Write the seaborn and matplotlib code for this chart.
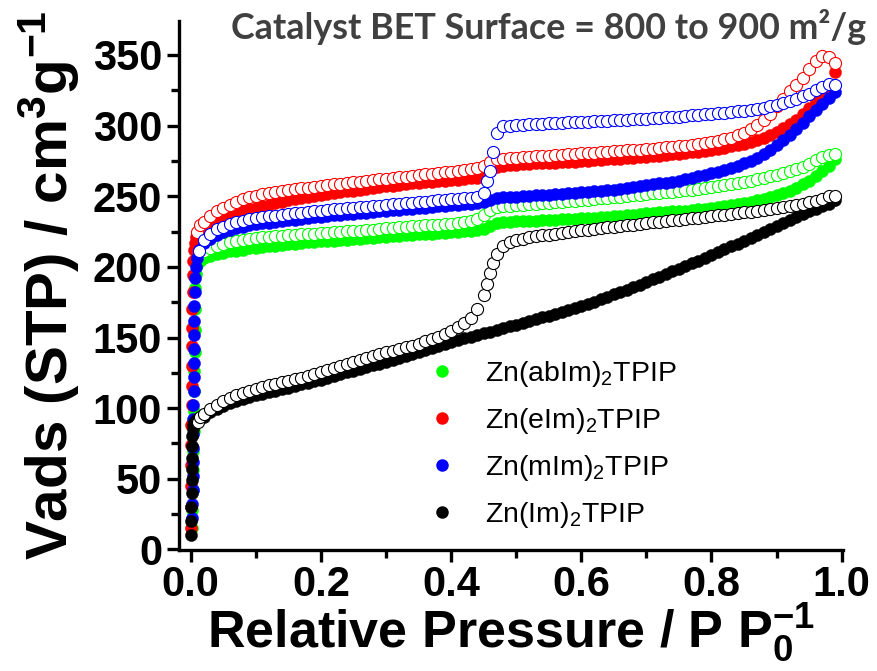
import numpy as np
import pandas as pd
import matplotlib
matplotlib.use("Agg")
import matplotlib.pyplot as plt
from matplotlib.ticker import MultipleLocator
from matplotlib.lines import Line2D
import seaborn as sns

# ---------------- data ----------------
GRID_P = [0.02, 0.03, 0.04, 0.05, 0.06, 0.07, 0.08, 0.09, 0.10, 0.11,
          0.12, 0.13, 0.14, 0.15, 0.16, 0.17, 0.18, 0.19, 0.20, 0.21,
          0.22, 0.23, 0.24, 0.25, 0.26, 0.27, 0.28, 0.29, 0.30, 0.31,
          0.32, 0.33, 0.34, 0.35, 0.36, 0.37, 0.38, 0.39, 0.40, 0.41,
          0.42, 0.43, 0.44, 0.45, 0.46, 0.47, 0.48, 0.49, 0.50, 0.51,
          0.52, 0.53, 0.54, 0.55, 0.56, 0.57, 0.58, 0.59, 0.60, 0.61,
          0.62, 0.63, 0.64, 0.65, 0.66, 0.67, 0.68, 0.69, 0.70, 0.71,
          0.72, 0.73, 0.74, 0.75, 0.76, 0.77, 0.78, 0.79, 0.80, 0.81,
          0.82, 0.83, 0.84, 0.85, 0.86, 0.87, 0.88, 0.89, 0.90, 0.91,
          0.92, 0.93, 0.94, 0.95, 0.96, 0.97, 0.98, 0.99]

# Zn(abIm)2TPIP (green)
ABIM_ADS_LOW_P = [0.002, 0.0025, 0.003, 0.0035, 0.004, 0.0045, 0.005, 0.0053, 0.0056, 0.0059,
                  0.0062, 0.0065, 0.007, 0.008, 0.01, 0.014]
ABIM_ADS_LOW_V = [15, 28, 42, 56, 70, 84, 98, 112, 126, 140, 155, 170, 185, 195, 201, 204]
ABIM_ADS = [206, 207.5, 209, 210, 211, 211.5, 212, 213, 213.5, 214,
            214.5, 215, 215.5, 216, 216.5, 217, 217.3, 217.6, 218, 218.3,
            218.6, 219, 219.3, 219.6, 220, 220.3, 220.6, 221, 221.3, 221.6,
            222, 222.3, 222.6, 223, 223.3, 223.6, 224, 224.3, 224.6, 225,
            225.3, 225.6, 226, 227, 229, 231, 231.5, 232, 232.2, 232.4,
            232.6, 232.8, 233, 233.2, 233.4, 233.6, 233.8, 234, 234.3, 234.6,
            234.9, 235.2, 235.5, 235.8, 236.1, 236.5, 237, 237.5, 238, 238.3,
            238.6, 238.9, 239.2, 239.5, 239.8, 240.2, 240.6, 241, 241.6, 242.2,
            242.9, 243.6, 244.3, 245, 246, 247, 248.2, 249.4, 250.8, 252.3,
            254, 256, 258.5, 261, 264, 267.5, 271.5, 276]
ABIM_DES_LOW_P = [0.01, 0.015]
ABIM_DES_LOW_V = [206, 209]
ABIM_DES = [211, 213.5, 215, 216.5, 217.5, 218.5, 219.3, 220, 220.5, 221,
            221.4, 221.8, 222.1, 222.4, 222.7, 223, 223.3, 223.6, 223.9, 224.2,
            224.5, 224.8, 225.1, 225.4, 225.7, 226, 226.4, 226.8, 227.2, 227.6,
            228, 228.4, 228.7, 229, 229.3, 229.6, 229.9, 230.2, 230.5, 231,
            231.5, 232.5, 234, 236.5, 240, 242.5, 243, 243.4, 243.8, 244.1,
            244.4, 244.7, 245, 245.3, 245.6, 246, 246.4, 246.8, 247.2, 247.6,
            248, 248.4, 248.8, 249.2, 249.7, 250.2, 250.7, 251.2, 251.7, 252.1,
            252.5, 252.9, 253.3, 253.7, 254.2, 254.7, 255.2, 255.7, 256.3, 257,
            257.8, 258.6, 259.4, 260.2, 261.1, 262, 263, 264, 265, 266.2,
            267.6, 269.2, 271, 273, 275.3, 277.5, 279.2, 279.8]

# Zn(eIm)2TPIP (red)
EIM_ADS_LOW_P = [0.0002, 0.0004, 0.0006, 0.0008, 0.001, 0.0012, 0.0014, 0.0016, 0.0018, 0.002,
                 0.0023, 0.0026, 0.003, 0.0035, 0.004, 0.005, 0.006, 0.008, 0.01, 0.014]
EIM_ADS_LOW_V = [15, 30, 45, 60, 74, 88, 102, 116, 130, 144,
                 157, 170, 182, 194, 204, 212, 217, 221, 224, 226]
EIM_ADS = [228, 231, 233.5, 235.5, 237, 238.5, 240, 241, 242, 243,
           244, 245, 246, 247, 248, 248.8, 249.6, 250.4, 251, 251.6,
           252.2, 252.8, 253.4, 254, 254.6, 255.2, 255.8, 256.4, 257, 257.5,
           258, 258.5, 259, 259.4, 259.8, 260.2, 260.6, 261, 261.4, 261.8,
           262.2, 262.6, 263, 264, 268, 271, 271.6, 272, 272.4, 272.7,
           273, 273.2, 273.4, 273.6, 273.8, 274, 274.2, 274.5, 274.8, 275.1,
           275.4, 275.7, 276, 276.3, 276.6, 276.9, 277.2, 277.6, 278, 278.4,
           278.8, 279.2, 279.6, 280, 280.5, 281, 281.6, 282.2, 282.9, 283.6,
           284.4, 285.2, 286, 287, 288.2, 289.5, 291.2, 293.2, 295.5, 298,
           301, 304, 308, 312.5, 317.5, 322, 328, 338]
EIM_DES_LOW_P = [0.009, 0.015]
EIM_DES_LOW_V = [224.5, 229.5]
EIM_DES = [232, 236, 239.5, 242, 244, 246, 247.8, 249.3, 250.5, 251.5,
           252.3, 253, 253.7, 254.3, 254.9, 255.5, 256.1, 256.7, 257.3, 257.9,
           258.4, 258.9, 259.4, 259.9, 260.4, 260.9, 261.4, 261.9, 262.4, 262.9,
           263.4, 263.9, 264.4, 264.9, 265.4, 265.9, 266.4, 266.9, 267.4, 268,
           268.6, 269.3, 270.2, 271.5, 274, 276, 276.6, 277, 277.3, 277.6,
           277.9, 278.2, 278.5, 278.8, 279.1, 279.4, 279.7, 280, 280.3, 280.6,
           280.9, 281.2, 281.5, 281.8, 282.1, 282.4, 282.7, 283, 283.3, 283.7,
           284.1, 284.5, 284.9, 285.3, 285.8, 286.3, 286.9, 287.6, 288.4, 289.3,
           290.3, 291.5, 293, 295, 297.5, 300.5, 304, 308.5, 313.5, 319,
           324.5, 329, 334, 340, 345.5, 349, 348.5, 344]

# Zn(mIm)2TPIP (blue)
MIM_ADS_LOW_P = [0.0025, 0.0027, 0.0029, 0.0031, 0.0033, 0.0035, 0.0037, 0.0039, 0.0041, 0.0043,
                 0.0045, 0.0047, 0.0049, 0.0051, 0.0053, 0.0056, 0.006, 0.0066, 0.0075, 0.0095, 0.013]
MIM_ADS_LOW_V = [22, 32, 42, 52, 62, 72, 82, 92, 102, 112,
                 122, 132, 142, 152, 162, 172, 182, 192, 200, 206, 212]
MIM_ADS = [217, 220, 222.5, 224.5, 226, 227.3, 228.4, 229.3, 230, 230.7,
           231.3, 231.9, 232.5, 233, 233.5, 234, 234.5, 235, 235.5, 236,
           236.4, 236.8, 237.2, 237.6, 238, 238.4, 238.8, 239.2, 239.6, 240,
           240.4, 240.8, 241.2, 241.6, 242, 242.4, 242.8, 243.2, 243.6, 244,
           244.4, 244.8, 245.2, 246, 247.5, 248.7, 249.1, 249.4, 249.7, 250,
           250.3, 250.6, 250.9, 251.2, 251.5, 251.8, 252.1, 252.4, 252.7, 253,
           253.4, 253.8, 254.2, 254.7, 255.2, 255.8, 256.4, 257.2, 257.8, 258.4,
           259, 259.6, 260.3, 261.1, 262, 263, 264, 265, 266.2, 267.4,
           268.7, 270.1, 271.6, 273.3, 275.2, 277.3, 279.8, 282.8, 286, 289.5,
           293.5, 297.5, 302, 306.5, 311, 315.5, 319.5, 324]
MIM_DES_LOW_P = [0.012, 0.455, 0.465]
MIM_DES_LOW_V = [211.5, 261, 281]
MIM_DES = [219, 223, 226.5, 228.5, 230, 231.5, 232.8, 233.8, 234.6, 235.2,
           235.8, 236.3, 236.8, 237.3, 237.8, 238.3, 238.8, 239.3, 239.8, 240.2,
           240.6, 241, 241.4, 241.8, 242.2, 242.6, 243, 243.4, 243.8, 244.2,
           244.6, 245, 245.4, 245.8, 246.2, 246.6, 247, 247.4, 247.8, 248.2,
           248.6, 249, 249.5, 252, 268, 295, 299.5, 300, 300.4, 300.7,
           301, 301.2, 301.4, 301.6, 301.8, 302, 302.2, 302.4, 302.6, 302.8,
           303, 303.2, 303.4, 303.6, 303.8, 304, 304.3, 304.6, 304.9, 305.2,
           305.5, 305.8, 306.1, 306.4, 306.8, 307.2, 307.6, 308, 308.4, 308.8,
           309.2, 309.6, 310.1, 310.6, 311.2, 311.9, 312.7, 313.6, 314.6, 315.8,
           317.2, 318.8, 320.6, 322.6, 325, 327.5, 329.5, 328.5]

# Zn(Im)2TPIP (black)
IM_ADS_LOW_P = [0.0008, 0.001, 0.0012, 0.0014, 0.0016, 0.0018, 0.002, 0.0023, 0.0027, 0.0032,
                0.004, 0.0055, 0.0075, 0.01, 0.014]
IM_ADS_LOW_V = [10, 20, 30, 40, 49, 57, 65, 73, 80, 85, 88, 90, 91.5, 92.5, 93.5]
IM_ADS = [94, 97, 99.5, 101.5, 103.3, 105, 106.5, 107.8, 109, 110.2,
          111.3, 112.4, 113.5, 114.6, 115.7, 116.8, 117.9, 119, 120.1, 121.4,
          122.7, 124, 125.3, 126.6, 127.9, 129.1, 130.3, 131.6, 133, 134.4,
          135.8, 137.2, 138.6, 140, 141.4, 142.8, 144.2, 145.6, 147, 148.2,
          149.4, 150.6, 151.8, 153, 154.2, 155.4, 156.6, 157.8, 159, 160.3,
          161.6, 162.9, 164.2, 165.5, 166.8, 168.1, 169.4, 170.7, 172, 173.7,
          175.4, 177.1, 178.8, 180.5, 182.2, 183.9, 185.7, 187.5, 189.5, 191.3,
          193.1, 195, 196.9, 198.8, 200.7, 202.6, 204.5, 206.5, 208.5, 210.5,
          212.5, 214.5, 216.5, 218.5, 220.6, 222.7, 224.8, 226.9, 229, 231.1,
          233.2, 235.3, 237.4, 239.4, 241.2, 243, 244.8, 247]
IM_DES_LOW_P = [0.011, 0.015, 0.455, 0.465]
IM_DES_LOW_V = [90.5, 93.5, 188, 203]
IM_DES = [96, 99.5, 102.5, 105, 107, 109, 110.8, 112.4, 113.8, 115,
          116.1, 117.2, 118.3, 119.4, 120.5, 121.6, 122.7, 124.1, 125.5, 126.9,
          128.3, 129.7, 131.1, 132.5, 133.9, 135.3, 136.7, 138.1, 139.4, 140.6,
          141.8, 143, 144.3, 145.7, 147.2, 148.8, 150.6, 152.6, 154.8, 157.3,
          160.3, 164, 170, 180, 196, 209, 215, 217.5, 219, 220,
          220.8, 221.5, 222.2, 222.9, 223.5, 224.1, 224.7, 225.3, 225.9, 226.4,
          226.9, 227.4, 227.9, 228.4, 228.9, 229.4, 229.9, 230.4, 230.9, 231.4,
          231.9, 232.4, 232.9, 233.4, 233.9, 234.4, 234.9, 235.4, 235.9, 236.4,
          236.9, 237.4, 237.9, 238.5, 239.1, 239.7, 240.3, 240.9, 241.5, 242.1,
          242.8, 243.6, 244.5, 245.6, 246.8, 248.2, 249.8, 250.2]

LABELS = ["Zn(abIm)$_2$TPIP", "Zn(eIm)$_2$TPIP", "Zn(mIm)$_2$TPIP", "Zn(Im)$_2$TPIP"]
COLORS = ["#00FF00", "#FF0000", "#0000FF", "#000000"]

SERIES = [
    (ABIM_ADS_LOW_P, ABIM_ADS_LOW_V, ABIM_ADS, ABIM_DES_LOW_P, ABIM_DES_LOW_V, ABIM_DES),
    (EIM_ADS_LOW_P, EIM_ADS_LOW_V, EIM_ADS, EIM_DES_LOW_P, EIM_DES_LOW_V, EIM_DES),
    (MIM_ADS_LOW_P, MIM_ADS_LOW_V, MIM_ADS, MIM_DES_LOW_P, MIM_DES_LOW_V, MIM_DES),
    (IM_ADS_LOW_P, IM_ADS_LOW_V, IM_ADS, IM_DES_LOW_P, IM_DES_LOW_V, IM_DES),
]
for s in SERIES:
    assert len(s[0]) == len(s[1]) and len(s[3]) == len(s[4])
    assert len(s[2]) == len(GRID_P) and len(s[5]) == len(GRID_P)

# ---------------- style ----------------
sns.set_style("ticks")
plt.rcParams.update({
    "font.family": ["Liberation Sans", "DejaVu Sans"],
    "font.weight": "bold",
    "mathtext.fontset": "custom",
    "mathtext.rm": "Liberation Sans",
    "mathtext.bf": "Liberation Sans:bold",
    "mathtext.default": "regular",
    "axes.linewidth": 2.4,
    "axes.edgecolor": "black",
    "axes.labelcolor": "black",
    "text.color": "black",
    "xtick.color": "black",
    "ytick.color": "black",
    "xtick.labelcolor": "black",
    "ytick.labelcolor": "black",
})

fig = plt.figure(figsize=(8.77, 6.71), dpi=100)
ax = fig.add_axes([0.2041, 0.1803, 0.7571, 0.7884])

MS = 76
for (lp, lv, av, dlp, dlv, dv), lab, col in zip(SERIES, LABELS, COLORS):
    ads = pd.DataFrame({"p": list(lp) + GRID_P, "v": list(lv) + av})
    des = pd.DataFrame({"p": list(dlp) + GRID_P, "v": list(dlv) + dv}).sort_values("p")
    sns.scatterplot(data=ads, x="p", y="v", ax=ax, color=col, edgecolor=col,
                    linewidth=0.3, s=MS, marker="o", legend=False, zorder=3)
    sns.scatterplot(data=des, x="p", y="v", ax=ax, color="white", edgecolor=col,
                    linewidth=0.8, s=MS, marker="o", legend=False, zorder=3)

ax.set_xlim(-0.018, 1.002)
ax.set_ylim(-0.4, 374)
ax.set_xticks([0.0, 0.2, 0.4, 0.6, 0.8, 1.0])
ax.set_xticklabels(["0.0", "0.2", "0.4", "0.6", "0.8", "1.0"])
ax.xaxis.set_minor_locator(MultipleLocator(0.1))
ax.set_yticks([0, 50, 100, 150, 200, 250, 300, 350])
ax.yaxis.set_minor_locator(MultipleLocator(25))
sns.despine(ax=ax)
ax.tick_params(axis="both", which="major", length=8.6, width=2.4, labelsize=30, color="black",
               labelcolor="black")
ax.tick_params(axis="both", which="minor", length=5.8, width=2.4, color="black")
ax.tick_params(axis="x", which="major", pad=2)
ax.tick_params(axis="y", which="major", pad=3.5)

ax.set_xlabel("Relative Pressure / P P$_0^{-1}$", fontsize=37.5, fontweight="bold",
              labelpad=-2, color="black")
ax.set_ylabel("Vads (STP) / cm$^3$g$^{-1}$", fontsize=42, fontweight="bold", labelpad=8,
              color="black")

fig.text(0.6254, 0.960, "Catalyst BET Surface = 800 to 900 m\u00b2/g", ha="center", va="center",
         fontsize=25.8, fontweight="bold", color="#404040", family=["Lato", "DejaVu Sans"])

handles = [Line2D([], [], linestyle="none", marker="o", markersize=9, color=c,
                  markeredgewidth=0) for c in COLORS]
ax.legend(handles, LABELS, loc="upper left", bbox_to_anchor=(428 / 877, 1 - 359 / 671),
          bbox_transform=fig.transFigure, frameon=False,
          prop={"size": 20.5, "weight": "normal"}, labelcolor="black",
          handlelength=1.0, handletextpad=1.0, labelspacing=0.6, borderpad=0, borderaxespad=0)

fig.savefig("out.png", dpi=100)
